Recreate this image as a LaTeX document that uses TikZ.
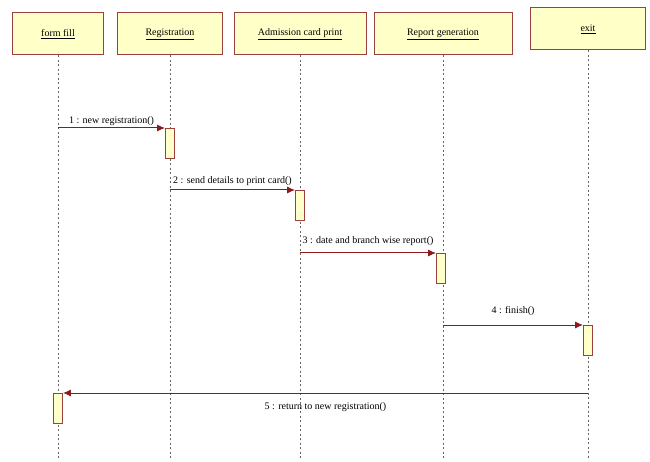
\documentclass[tikz,border=0pt]{standalone}
\usepackage{fontspec}
\setmainfont{Liberation Serif}
\usetikzlibrary{arrows.meta}
\definecolor{boxfill}{HTML}{FFFFC8}
\definecolor{boxline}{HTML}{9A4040}
\definecolor{msg}{HTML}{8B1A1A}
\tikzset{
 obj/.style={draw=boxline, fill=boxfill, line width=1pt, minimum height=42pt, font=\fontsize{10}{12}\selectfont, inner sep=2pt},
 act/.style={draw=boxline, fill=boxfill, line width=0.9pt, minimum width=9pt, minimum height=30pt, inner sep=0pt, anchor=north},
 life/.style={draw=gray!80!black, dash pattern=on 2pt off 2.5pt, line width=0.7pt},
 msgarrow/.style={draw=msg, line width=1pt, -{Latex[length=8pt,width=7pt]}},
 lbl/.style={font=\fontsize{10}{12}\selectfont, inner sep=1pt}
}
\begin{document}
\begin{tikzpicture}[x=1pt,y=-1pt]
\useasboundingbox (0,0) rectangle (650,462);
% objects
\node[obj, minimum width=91pt]  (ff)  at (58,34)  {\underline{form fill}};
\node[obj, minimum width=105pt] (reg) at (170,34) {\underline{Registration}};
\node[obj, minimum width=132pt] (adm) at (300,34) {\underline{Admission card print}};
\node[obj, minimum width=138pt] (rep) at (443,34) {\underline{Report generation}};
\node[obj, minimum width=115pt] (ex)  at (588,29) {\underline{exit}};
% lifeline ends
\coordinate (ffb)  at (58,460);
\coordinate (regb) at (170,460);
\coordinate (admb) at (300,460);
\coordinate (repb) at (443,460);
\coordinate (exb)  at (588,460);
\draw[life] (ff.south)  -- (ffb);
\draw[life] (reg.south) -- (regb);
\draw[life] (adm.south) -- (admb);
\draw[life] (rep.south) -- (repb);
\draw[life] (ex.south)  -- (exb);
% activations
\node[act] (a1) at (170,128) {};
\node[act] (a2) at (300,190) {};
\node[act] (a3) at (441,253) {};
\node[act] (a4) at (588,325) {};
\node[act] (a5) at (58,393) {};
% message sources
\coordinate (m1) at (58,128);
\coordinate (m2) at (170,190);
\coordinate (m3) at (300,253);
\coordinate (m4) at (443,325);
\coordinate (m5) at (588,393);
\draw[msgarrow] (m1) -- (a1.north west) node[lbl, midway, above=1pt] {1 : new registration()};
\draw[msgarrow] (m2) -- (a2.north west) node[lbl, midway, above=3pt] {2 : send details to print card()};
\draw[msgarrow] (m3) -- (a3.north west) node[lbl, midway, above=6pt] {3 : date and branch wise report()};
\draw[msgarrow] (m4) -- (a4.north west) node[lbl, midway, above=8pt] {4 : finish()};
\draw[msgarrow] (m5) -- (a5.north east) node[lbl, midway, below=8pt] {5 : return to new registration()};
\end{tikzpicture}
\end{document}
